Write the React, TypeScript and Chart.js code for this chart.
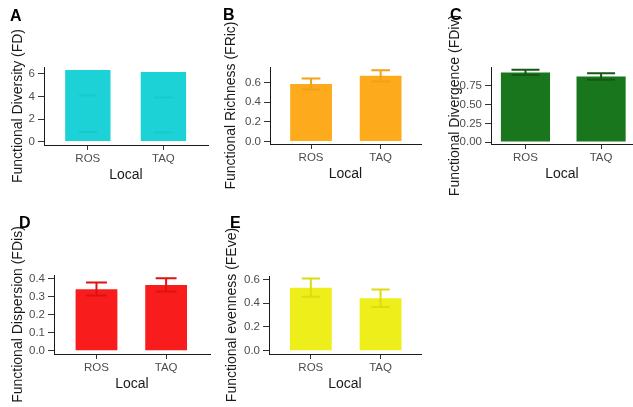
import React, { useEffect, useRef } from "react";
import { Chart, registerables } from "chart.js";

Chart.register(...registerables);

// ---------- data ----------
const categories = ["ROS", "TAQ"];

const fdMeans = [6.36, 6.17];
const fdErrHigh = [4.1, 3.92];
const fdErrLow = [0.85, 0.8];
const fdTicks = [0, 2, 4, 6];

const fricMeans = [0.587, 0.67];
const fricErrHigh = [0.644, 0.727];
const fricErrLow = [0.53, 0.613];
const fricTicks = [0, 0.2, 0.4, 0.6];

const fdivMeans = [0.926, 0.873];
const fdivErrHigh = [0.962, 0.918];
const fdivErrLow = [0.892, 0.83];
const fdivTicks = [0, 0.25, 0.5, 0.75];

const fdisMeans = [0.343, 0.366];
const fdisErrHigh = [0.38, 0.404];
const fdisErrLow = [0.308, 0.33];
const fdisTicks = [0, 0.1, 0.2, 0.3, 0.4];

const feveMeans = [0.53, 0.44];
const feveErrHigh = [0.606, 0.514];
const feveErrLow = [0.454, 0.368];
const feveTicks = [0, 0.2, 0.4, 0.6];

const FONT = "'Liberation Sans', Arial, Helvetica, sans-serif";
Chart.defaults.font.family = FONT;

type Panel = {
  letter: string;
  title: string;
  means: number[];
  hi: number[];
  lo: number[];
  ticks: number[];
  decimals: number;
  yMin: number;
  yMax: number;
  xMin: number;
  xMax: number;
  barFrac: number;
  capFrac: number;
  color: string;
  errColor: string;
  errStem: boolean;
  box: { cx: number; cy: number; cw: number; ch: number };
  plot: { L: number; T: number; R: number; B: number };
  titleX: number;
  letterPos: { left: number; top: number };
};

const panels: Panel[] = [
  {
    letter: "A", title: "Functional Diversity (FD)",
    means: fdMeans, hi: fdErrHigh, lo: fdErrLow, ticks: fdTicks, decimals: 0,
    yMin: -0.3, yMax: 6.62, xMin: 0.42, xMax: 2.59, barFrac: 0.6, capFrac: 0.24,
    color: "#1dd2d6", errColor: "#1ac7cb", errStem: false,
    box: { cx: 0, cy: 0, cw: 211, ch: 200 },
    plot: { L: 44, T: 67, R: 208, B: 145 },
    titleX: 18, letterPos: { left: 10, top: 8 },
  },
  {
    letter: "B", title: "Functional Richness (FRic)",
    means: fricMeans, hi: fricErrHigh, lo: fricErrLow, ticks: fricTicks, decimals: 1,
    yMin: -0.025, yMax: 0.76, xMin: 0.41, xMax: 2.58, barFrac: 0.6, capFrac: 0.27,
    color: "#fdaa1c", errColor: "#f2a118", errStem: true,
    box: { cx: 211, cy: 0, cw: 211, ch: 200 },
    plot: { L: 270, T: 67, R: 421, B: 144 },
    titleX: 231, letterPos: { left: 223, top: 7 },
  },
  {
    letter: "C", title: "Functional Divergence (FDiv)",
    means: fdivMeans, hi: fdivErrHigh, lo: fdivErrLow, ticks: fdivTicks, decimals: 2,
    yMin: -0.025, yMax: 1.0, xMin: 0.544, xMax: 2.422, barFrac: 0.65, capFrac: 0.37,
    color: "#1a761c", errColor: "#125a14", errStem: true,
    box: { cx: 422, cy: 0, cw: 211, ch: 200 },
    plot: { L: 491, T: 67, R: 633, B: 144 },
    titleX: 455, letterPos: { left: 450, top: 7 },
  },
  {
    letter: "D", title: "Functional Dispersion (FDis)",
    means: fdisMeans, hi: fdisErrHigh, lo: fdisErrLow, ticks: fdisTicks, decimals: 1,
    yMin: -0.018, yMax: 0.422, xMin: 0.39, xMax: 2.63, barFrac: 0.6, capFrac: 0.3,
    color: "#f81c1c", errColor: "#de1212", errStem: true,
    box: { cx: 0, cy: 200, cw: 211, ch: 207 },
    plot: { L: 54, T: 275, R: 210, B: 354 },
    titleX: 18.5, letterPos: { left: 19, top: 215 },
  },
  {
    letter: "E", title: "Functional evenness (FEve)",
    means: feveMeans, hi: feveErrHigh, lo: feveErrLow, ticks: feveTicks, decimals: 1,
    yMin: -0.028, yMax: 0.628, xMin: 0.4, xMax: 2.58, barFrac: 0.6, capFrac: 0.26,
    color: "#eeee1a", errColor: "#dcdc10", errStem: true,
    box: { cx: 211, cy: 200, cw: 211, ch: 207 },
    plot: { L: 269, T: 276, R: 421, B: 354 },
    titleX: 232, letterPos: { left: 230, top: 215 },
  },
];

const errorBarPlugin = {
  id: "errorBars",
  afterDatasetsDraw(chart: any, _args: any, opts: any) {
    const { ctx } = chart;
    const x = chart.scales.x;
    const y = chart.scales.y;
    const hi: number[] = opts.hi;
    const lo: number[] = opts.lo;
    ctx.save();
    ctx.strokeStyle = opts.color;
    ctx.lineWidth = opts.width;
    ctx.lineCap = "butt";
    hi.forEach((h, i) => {
      const px = x.getPixelForValue(i + 1);
      const half = x.getPixelForValue(1 + opts.capFrac / 2) - x.getPixelForValue(1);
      const yh = y.getPixelForValue(h);
      const yl = y.getPixelForValue(lo[i]);
      ctx.beginPath();
      ctx.moveTo(px - half, yh);
      ctx.lineTo(px + half, yh);
      if (opts.stem) {
        ctx.moveTo(px, yh);
        ctx.lineTo(px, yl);
      }
      ctx.moveTo(px - half, yl);
      ctx.lineTo(px + half, yl);
      ctx.stroke();
    });
    ctx.restore();
  },
};

const X_AXIS_H = 45;

function PanelChart({ p }: { p: Panel }) {
  const ref = useRef<HTMLCanvasElement | null>(null);
  useEffect(() => {
    if (!ref.current) return;
    const { cx, cy, cw, ch } = p.box;
    const { L, T, R, B } = p.plot;
    const chart = new Chart(ref.current, {
      type: "bar",
      data: {
        datasets: [
          {
            data: p.means.map((m, i) => ({ x: i + 1, y: m })),
            backgroundColor: p.color,
            borderWidth: 0,
            categoryPercentage: 1,
            barPercentage: p.barFrac,
          },
        ],
      },
      options: {
        responsive: false,
        animation: false,
        events: [],
        layout: {
          padding: {
            left: 0,
            top: T - cy,
            right: cx + cw - R,
            bottom: cy + ch - B - X_AXIS_H,
          },
        },
        plugins: {
          legend: { display: false },
          tooltip: { enabled: false },
          errorBars: {
            hi: p.hi, lo: p.lo, color: p.errColor, width: 2,
            capFrac: p.capFrac, stem: p.errStem,
          },
        } as any,
        scales: {
          x: {
            type: "linear",
            min: p.xMin,
            max: p.xMax,
            offset: false,
            afterBuildTicks: (s: any) => {
              s.ticks = categories.map((_, i) => ({ value: i + 1 }));
            },
            afterFit: (s: any) => {
              s.height = X_AXIS_H;
            },
            grid: {
              display: true,
              offset: false,
              drawOnChartArea: false,
              drawTicks: true,
              tickLength: 5,
              color: "#333333",
            },
            border: { display: true, color: "#1a1a1a", width: 1 },
            ticks: {
              autoSkip: false,
              maxRotation: 0,
              padding: 2,
              color: "#4d4d4d",
              font: { size: 11.5 },
              callback: (v: any) => categories[Math.round(Number(v)) - 1] ?? "",
            },
            title: {
              display: true,
              text: "Local",
              color: "#1a1a1a",
              font: { size: 14, lineHeight: 1.2 },
              padding: { top: 0, bottom: 6.6 },
            },
          },
          y: {
            type: "linear",
            min: p.yMin,
            max: p.yMax,
            afterBuildTicks: (s: any) => {
              s.ticks = p.ticks.map((v) => ({ value: v }));
            },
            afterFit: (s: any) => {
              s.width = L - cx;
            },
            grid: {
              display: true,
              drawOnChartArea: false,
              drawTicks: true,
              tickLength: 6,
              color: "#333333",
            },
            border: { display: true, color: "#1a1a1a", width: 1 },
            ticks: {
              autoSkip: false,
              padding: 3,
              color: "#4d4d4d",
              font: { size: 11.5 },
              callback: (v: any) => Number(v).toFixed(p.decimals),
            },
            title: {
              display: true,
              text: p.title,
              color: "#1a1a1a",
              font: { size: 14, lineHeight: 1.2 },
              padding: { top: p.titleX - cx - 8.4, bottom: 0 },
            },
          },
        },
      },
      plugins: [errorBarPlugin as any],
    });
    return () => chart.destroy();
  }, [p]);

  const { cx, cy, cw, ch } = p.box;
  return (
    <canvas
      ref={ref}
      width={cw}
      height={ch}
      style={{ position: "absolute", left: cx, top: cy, width: cw, height: ch }}
    />
  );
}

export default function App() {
  return (
    <div
      style={{
        position: "fixed",
        left: 0,
        top: 0,
        width: 633,
        height: 407,
        background: "#ffffff",
        overflow: "hidden",
      }}
    >
      {panels.map((p) => (
        <PanelChart key={p.letter} p={p} />
      ))}
      {panels.map((p) => (
        <div
          key={"l" + p.letter}
          style={{
            position: "absolute",
            left: p.letterPos.left,
            top: p.letterPos.top,
            fontFamily: FONT,
            fontWeight: "bold",
            fontSize: 16,
            lineHeight: "16px",
            color: "#000000",
            zIndex: 2,
          }}
        >
          {p.letter}
        </div>
      ))}
    </div>
  );
}
